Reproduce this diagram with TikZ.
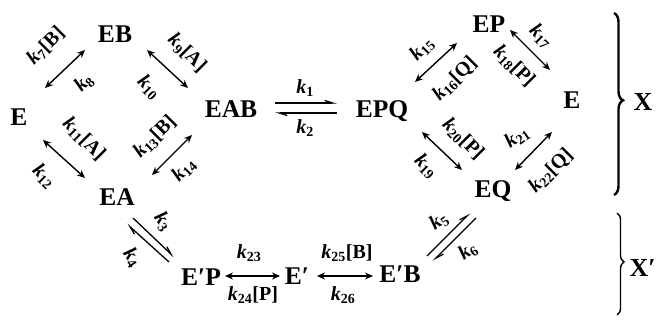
\documentclass[tikz,border=0pt]{standalone}
\usepackage{fontspec}
\setmainfont{Liberation Serif}
\usetikzlibrary{arrows.meta,calc,decorations.pathreplacing}
\newcommand{\kk}[1]{\textbf{\textit{k}}\textsubscript{\textbf{#1}}}
\begin{document}
\begin{tikzpicture}[x=1pt,y=-1pt,
  sp/.style={font=\fontsize{25.5}{25.5}\selectfont\bfseries, inner sep=0pt, text height=16.5pt, text depth=0pt},
  lab/.style={font=\fontsize{20}{20}\selectfont\bfseries, inner sep=0pt},
  big/.style={font=\fontsize{26}{26}\selectfont\bfseries, inner sep=0pt, text height=17pt, text depth=0pt},
  dbl/.style={{Stealth[length=8pt,width=7pt]}-{Stealth[length=8pt,width=7pt]}, line width=1.4pt},
  harp/.style={-{Straight Barb[left,length=8pt,width=5pt]}, line width=1.3pt},
  bracex/.style={decorate, decoration={brace, amplitude=#1, aspect=0.48}}]
\useasboundingbox (0,0) rectangle (657,320);
% species
\node[sp] (E1)  at (19,117)  {E};
\node[sp] (EB)  at (115,34)  {EB};
\node[sp] (EAB) at (231,109) {EAB};
\node[sp] (EA)  at (117,197) {EA};
\node[sp] (EPQ) at (382,109) {EPQ};
\node[sp] (EP)  at (489,24)  {EP};
\node[sp] (E2)  at (572,100) {E};
\node[sp] (EQ)  at (493,189) {EQ};
\node[sp] (EpP) at (201,277) {E′P};
\node[sp] (Ep)  at (297,276) {E′};
\node[sp] (EpB) at (400,274) {E′B};
% left diamond
\draw[dbl] ($(E1)+(26,-29)$) -- ($(EB)+(-30,16)$);
\draw[dbl] ($(EB)+(32,16)$) -- ($(EAB)+(-43,-21)$);
\draw[dbl] ($(E1)+(24,23)$) -- ($(EA)+(-32,-19)$);
\draw[dbl] ($(EA)+(35,-22)$) -- ($(EAB)+(-39,26)$);
\node[lab, rotate=45]  (l7)  at (46,46)   {\kk{7}[B]};
\node[lab, rotate=45]  (l8)  at (84,83)   {\kk{8}};
\node[lab, rotate=-45] (l9)  at (187,53)  {\kk{9}[A]};
\node[lab, rotate=-45] (l10) at (149,87)  {\kk{10}};
\node[lab, rotate=-45] (l11) at (84,139)  {\kk{11}[A]};
\node[lab, rotate=-45] (l12) at (44,176)  {\kk{12}};
\node[lab, rotate=45]  (l13) at (155,137) {\kk{13}[B]};
\node[lab, rotate=45]  (l14) at (184,170) {\kk{14}};
% central step
\draw[harp] ($(EAB)+(44,-6)$) -- ($(EPQ)+(-45,-6)$);
\draw[harp] ($(EPQ)+(-45,4)$) -- ($(EAB)+(44,4)$);
\node[lab] (l1) at (305,88)  {\kk{1}};
\node[lab] (l2) at (305,128) {\kk{2}};
% right diamond
\draw[dbl] ($(EPQ)+(33,-27)$) -- ($(EP)+(-32,19)$);
\draw[dbl] ($(EP)+(21,6)$) -- ($(E2)+(-22,-30)$);
\draw[dbl] ($(EPQ)+(40,23)$) -- ($(EQ)+(-31,-19)$);
\draw[dbl] ($(EQ)+(22,-19)$) -- ($(E2)+(-20,32)$);
\node[lab, rotate=45]  (l15) at (422,49)  {\kk{15}};
\node[lab, rotate=45]  (l16) at (455,79)  {\kk{16}[Q]};
\node[lab, rotate=-45] (l17) at (541,36)  {\kk{17}};
\node[lab, rotate=-45] (l18) at (514,66)  {\kk{18}[P]};
\node[lab, rotate=-45] (l20) at (463,139) {\kk{20}[P]};
\node[lab, rotate=-45] (l19) at (426,166) {\kk{19}};
\node[lab, rotate=35]  (l21) at (517,137) {\kk{21}};
\node[lab, rotate=45]  (l22) at (551,171) {\kk{22}[Q]};
% lower branch
\draw[harp] ($(EA)+(16,21)$) -- ($(EpP)+(-27,-20)$);
\draw[harp] ($(EpP)+(-32,-15)$) -- ($(EA)+(10,27)$);
\node[lab, rotate=-55] (l3) at (163,222) {\kk{3}};
\node[lab, rotate=-55] (l4) at (132,258) {\kk{4}};
\draw[dbl] ($(EpP)+(24,-1)$) -- ($(Ep)+(-17,0)$);
\draw[dbl] ($(Ep)+(20,0)$) -- ($(EpB)+(-27,2)$);
\node[lab] (l23) at (249,253) {\kk{23}};
\node[lab] (l24) at (253,295) {\kk{24}[P]};
\node[lab] (l25) at (347,253) {\kk{25}[B]};
\node[lab] (l26) at (343,295) {\kk{26}};
\draw[harp] ($(EpB)+(27,-18)$) -- ($(EQ)+(-23,24)$);
\draw[harp] ($(EQ)+(-17,29)$) -- ($(EpB)+(33,-13)$);
\node[lab, rotate=35] (l5) at (439,221) {\kk{5}};
\node[lab, rotate=35] (l6) at (468,251) {\kk{6}};
% braces
\coordinate (bxt) at (614,13);
\coordinate (bxb) at (614,195);
\draw[bracex=9pt, line width=2.4pt] (bxt) -- (bxb);
\node[big] (X) at (643,102) {X};
\coordinate (byt) at (617,213);
\coordinate (byb) at (617,315);
\draw[bracex=7pt, line width=1.4pt] (byt) -- (byb);
\node[big, anchor=east] (Xp) at (656,268) {X′};
\end{tikzpicture}
\end{document}
